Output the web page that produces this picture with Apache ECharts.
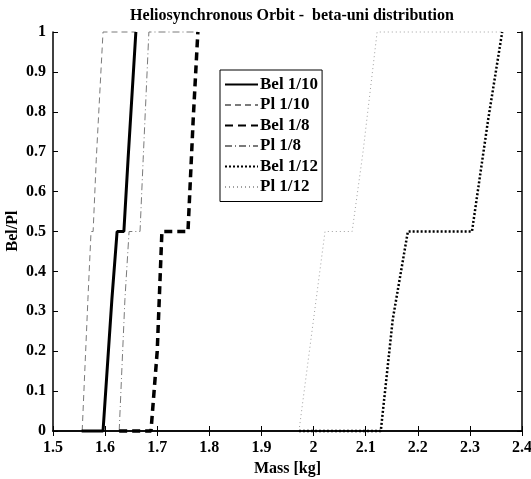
<!DOCTYPE html>
<html>
<head>
<meta charset="utf-8">
<script src="https://cdn.jsdelivr.net/npm/echarts@6/dist/echarts.min.js"></script>
<style>
  html, body { margin: 0; padding: 0; background: #fff; }
  #chart { width: 531px; height: 479px; }
</style>
</head>
<body>
<div id="chart"></div>
<script>
// Belief / plausibility curves of the mass, for three ratios
const seriesNames = ['Bel 1/10', 'Pl 1/10', 'Bel 1/8', 'Pl 1/8', 'Bel 1/12', 'Pl 1/12'];

const massBel10 = [1.555, 1.596, 1.613, 1.623, 1.636, 1.644, 1.659];
const probBel10 = [0, 0, 0.33, 0.5, 0.5, 0.68, 1];

const massPl10 = [1.556, 1.567, 1.573, 1.577, 1.583, 1.596, 1.659];
const probPl10 = [0, 0.33, 0.5, 0.5, 0.68, 1, 1];

const massBel8 = [1.627, 1.688, 1.700, 1.709, 1.759, 1.769, 1.778];
const probBel8 = [0, 0, 0.2, 0.5, 0.5, 0.78, 1];

const massPl8 = [1.627, 1.638, 1.646, 1.667, 1.673, 1.684, 1.778];
const probPl8 = [0, 0.33, 0.5, 0.5, 0.68, 1, 1];

const massBel12 = [1.972, 2.129, 2.152, 2.181, 2.304, 2.335, 2.362];
const probBel12 = [0, 0, 0.28, 0.5, 0.5, 0.78, 1];

const massPl12 = [1.972, 2.005, 2.022, 2.074, 2.095, 2.122, 2.362];
const probPl12 = [0, 0.33, 0.5, 0.5, 0.70, 1, 1];

const xTickLabels = { 1.5: '1.5', 1.6: '1.6', 1.7: '1.7', 1.8: '1.8', 1.9: '1.9', 2: '2', 2.1: '2.1', 2.2: '2.2', 2.3: '2.3', 2.4: '2.4' };

function pairs(xs, ys) { return xs.map((x, i) => [x, ys[i]]); }

const FONT = '"Liberation Serif", "DejaVu Serif", serif';

const styles = [
  { color: '#000', width: 3, type: 'solid' },
  { color: '#7a7a7a', width: 1, type: [6, 4] },
  { color: '#000', width: 3.5, type: [8, 5] },
  { color: '#7a7a7a', width: 1, type: [7, 3, 1, 3] },
  { color: '#000', width: 2.5, type: [2, 2] },
  { color: '#a0a0a0', width: 1, type: [1, 3] }
];
const datasets = [
  pairs(massBel10, probBel10), pairs(massPl10, probPl10),
  pairs(massBel8, probBel8), pairs(massPl8, probPl8),
  pairs(massBel12, probBel12), pairs(massPl12, probPl12)
];

const chart = echarts.init(document.getElementById('chart'), null, { renderer: 'canvas' });

const axisLineStyle = { lineStyle: { color: '#000', width: 1.5 } };
const tickStyle = { inside: true, length: 5, lineStyle: { color: '#000' } };

chart.setOption({
  animation: false,
  backgroundColor: '#fff',
  title: {
    text: 'Heliosynchronous Orbit -  beta-uni distribution',
    left: 287, top: 3, textAlign: 'center',
    textStyle: { fontFamily: FONT, fontWeight: 'bold', fontSize: 16, color: '#000' }
  },
  // vertical title of the probability axis
  graphic: [{
    type: 'text',
    x: 13, y: 231,
    rotation: Math.PI / 2,
    style: {
      text: 'Bel/Pl',
      font: 'bold 16px ' + FONT,
      fill: '#000',
      align: 'center', verticalAlign: 'middle',
      textAlign: 'center', textVerticalAlign: 'middle'
    }
  }],
  legend: {
    data: seriesNames,
    orient: 'vertical',
    left: 220, top: 70,
    itemWidth: 33, itemHeight: 14, itemGap: 3.5,
    padding: [6, 4, 6, 4],
    backgroundColor: '#fff',
    borderColor: '#000', borderWidth: 1, borderRadius: 0,
    itemStyle: { opacity: 0 },
    textStyle: { fontFamily: FONT, fontWeight: 'bold', fontSize: 17, color: '#000', padding: [0, 0, 0, -3] }
  },
  grid: { left: 53, right: 9, top: 32, bottom: 48, containLabel: false, outerBoundsMode: 'none' },
  xAxis: [{
    type: 'value', min: 1.5, max: 2.4, interval: 0.1, z: 10,
    name: 'Mass [kg]', nameLocation: 'middle', nameGap: 30,
    nameTextStyle: { fontFamily: FONT, fontWeight: 'bold', fontSize: 16, color: '#000' },
    axisLine: axisLineStyle, axisTick: tickStyle, splitLine: { show: false },
    axisLabel: {
      fontFamily: FONT, fontWeight: 'bold', fontSize: 16, color: '#000', margin: 9,
      formatter: v => xTickLabels[Math.round(v * 10) / 10] || ''
    }
  }, {
    type: 'value', position: 'top', min: 1.5, max: 2.4, interval: 0.1, z: 10,
    axisLine: axisLineStyle, axisTick: tickStyle, axisLabel: { show: false }, splitLine: { show: false }
  }],
  yAxis: [{
    type: 'value', min: 0, max: 1, interval: 0.1, z: 10,
    axisLine: axisLineStyle, axisTick: tickStyle, splitLine: { show: false },
    axisLabel: {
      fontFamily: FONT, fontWeight: 'bold', fontSize: 16, color: '#000', margin: 7,
      formatter: v => String(Math.round(v * 10) / 10)
    }
  }, {
    type: 'value', position: 'right', min: 0, max: 1, interval: 0.1, z: 10,
    axisLine: axisLineStyle, axisTick: tickStyle, axisLabel: { show: false }, splitLine: { show: false }
  }],
  series: seriesNames.map((name, i) => ({
    name,
    type: 'line',
    data: datasets[i],
    symbol: 'none',
    showSymbol: false,
    clip: false,
    z: i % 2 === 0 ? 2 : 1,
    color: styles[i].color,
    lineStyle: { color: styles[i].color, width: styles[i].width, type: styles[i].type }
  }))
});
</script>
</body>
</html>
